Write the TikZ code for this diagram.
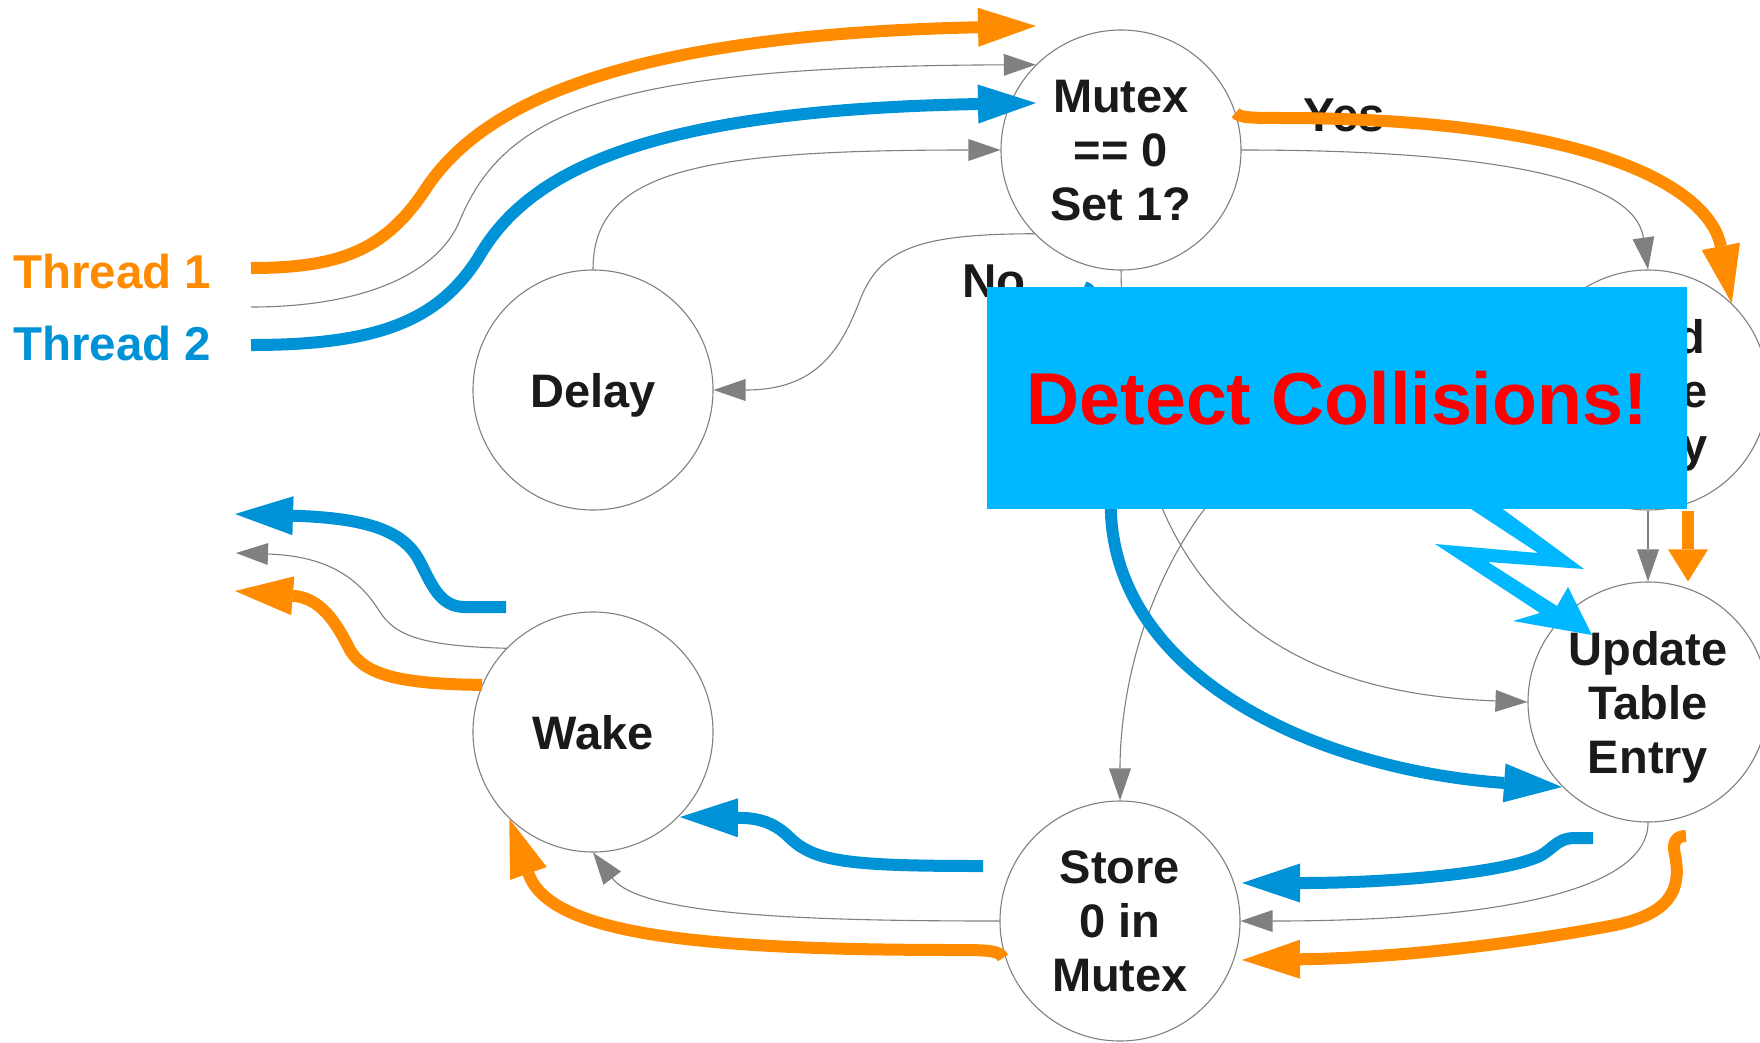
\documentclass[tikz,border=0pt]{standalone}
\usepackage{fontspec}
\setmainfont{Liberation Sans}
\usetikzlibrary{arrows.meta}
\definecolor{torange}{RGB}{255,140,0}
\definecolor{tblue}{RGB}{0,146,214}
\definecolor{tcyan}{RGB}{0,184,255}
\definecolor{tgray}{RGB}{128,128,128}
\definecolor{ttext}{RGB}{26,26,26}
\begin{document}
\begin{tikzpicture}[x=1pt,y=-1pt,
  stnode/.style={circle,draw=tgray,line width=1.1pt,fill=white,minimum size=240pt,inner sep=0pt,align=center,text=ttext,text depth=0pt,font=\fontsize{47}{54}\selectfont\bfseries},
  lbl/.style={anchor=base west,inner sep=0pt,font=\fontsize{47.5}{54}\selectfont\bfseries},
  garrow/.style={draw=tgray,line width=1.1pt,-{Triangle[length=32pt,width=22pt,line width=0pt]}},
  oarrow/.style={draw=torange,line width=12pt,-{Triangle[length=58pt,width=39pt,line width=0pt]}},
  barrow/.style={draw=tblue,line width=12pt,-{Triangle[length=58pt,width=39pt,line width=0pt]}},
]
\path[use as bounding box,fill=white] (0,0) rectangle (1760,1042);

% nodes
\node[stnode] (mutex) at (1121,150) {Mutex\\== 0\\Set 1?};
\node[stnode] (delay) at (593,390) {Delay};
\node[stnode] (wake) at (593,732) {Wake};
\node[stnode] (store) at (1120,921) {Store\\0 in\\Mutex};
\node[stnode] (update) at (1648,702) {Update\\Table\\Entry};
\node[stnode] (read) at (1648,390) {Read\\Table\\Entry};

% labels
\node[lbl,text=torange] (thr1) at (13,288) {Thread 1};
\node[lbl,text=tblue] (thr2) at (13,360) {Thread 2};
\node[lbl,text=ttext] (yes) at (1303,131) {Yes};
\node[lbl,text=ttext] (no) at (962,297) {No};

% free ends
\coordinate (o1s) at (251,268);
\coordinate (o1e) at (1036,26);
\coordinate (g1s) at (251,307);
\coordinate (b1s) at (251,345);
\coordinate (b1e) at (1036,103);
\coordinate (b2s) at (1084,287);
\coordinate (b2e) at (1562,787);
\coordinate (b3s) at (1593,838);
\coordinate (b3e) at (1242,883);
\coordinate (o3s) at (1686,836);
\coordinate (o3e) at (1242,960);
\coordinate (b4s) at (983,866);
\coordinate (b4e) at (680,817);
\coordinate (o4s) at (1003,958);
\coordinate (b5s) at (506,607);
\coordinate (b5e) at (235,514);
\coordinate (g5e) at (236,553);
\coordinate (o5e) at (235,591);

% gray connectors
\draw[garrow] (g1s) .. controls (370,307) and (440,270) .. (460,220) .. controls (505,112) and (610,66) .. (mutex.135);
\draw[garrow] (delay.north) .. controls (593,170) and (700,150) .. (mutex.west);
\draw[garrow] (mutex.224) .. controls (920,234) and (880,248) .. (860,300) .. controls (840,352) and (815,390) .. (delay.east);
\draw[garrow] (mutex.east) .. controls (1500,150) and (1635,180) .. (read.north);
\draw[garrow] (mutex.south) .. controls (1125,500) and (1190,690) .. (update.west);
\draw[garrow] (read.west) .. controls (1350,390) and (1250,450) .. (1200,515) .. controls (1140,600) and (1120,700) .. (store.north);
\draw[garrow] (read.south) -- (update.north);
\draw[garrow] (update.south) .. controls (1648,890) and (1500,921) .. (store.east);
\draw[garrow] (store.west) .. controls (800,921) and (640,915) .. (wake.south);
\draw[garrow] (wake.136) .. controls (420,646) and (395,635) .. (380,612) .. controls (360,580) and (330,556) .. (g5e);

% thread 1 / thread 2 connectors
\draw[oarrow] (o1s) .. controls (340,268) and (385,250) .. (425,190) .. controls (480,105) and (620,35) .. (o1e);
\draw[barrow] (b1s) .. controls (380,345) and (440,320) .. (480,255) .. controls (530,170) and (650,110) .. (b1e);
\draw[oarrow] (mutex.18) .. controls (1240,118) and (1250,118) .. (1290,118) .. controls (1600,120) and (1710,190) .. (read.46);
\draw[barrow] (b2s) .. controls (1104,289) and (1109,400) .. (1111,515) .. controls (1120,680) and (1320,770) .. (b2e);
\draw[oarrow,-{Triangle[length=32pt,width=40pt,line width=0pt]}] ([xshift=40pt]read.south) -- ([xshift=40pt]update.north);
\draw[barrow] (b3s) -- (1575,838) .. controls (1555,838) and (1552,852) .. (1535,858) .. controls (1500,872) and (1400,883) .. (b3e);
\draw[oarrow] (o3s) .. controls (1676,836) and (1672,842) .. (1675,855) .. controls (1682,890) and (1670,915) .. (1610,926) .. controls (1520,943) and (1400,958) .. (o3e);
\draw[barrow] (b4s) .. controls (850,866) and (815,862) .. (790,838) .. controls (775,823) and (760,818) .. (b4e);
\draw[oarrow] (o4s) .. controls (1000,951) and (990,950) .. (960,950) .. controls (700,950) and (550,935) .. (wake.226);
\draw[barrow] (b5s) -- (465,607) .. controls (440,607) and (432,585) .. (420,562) .. controls (405,532) and (370,518) .. (b5e);
\draw[oarrow] (wake.157) .. controls (400,684) and (365,675) .. (350,650) .. controls (335,620) and (320,598) .. (o5e);

% banner
\node[fill=tcyan,text=red,font=\fontsize{73.5}{80}\selectfont\bfseries,minimum width=700pt,minimum height=222pt,inner sep=0pt,anchor=north west] (banner) at (987,287) {Detect Collisions!};

% lightning bolt
\fill[tcyan] (1468,507) -- (1500,507) -- (1584,569) -- (1488,562) -- (1557,606) -- (1568,587) -- (1592,635) -- (1513,621) -- (1540,613) -- (1435,544) -- (1538,553) -- cycle;
\end{tikzpicture}
\end{document}
